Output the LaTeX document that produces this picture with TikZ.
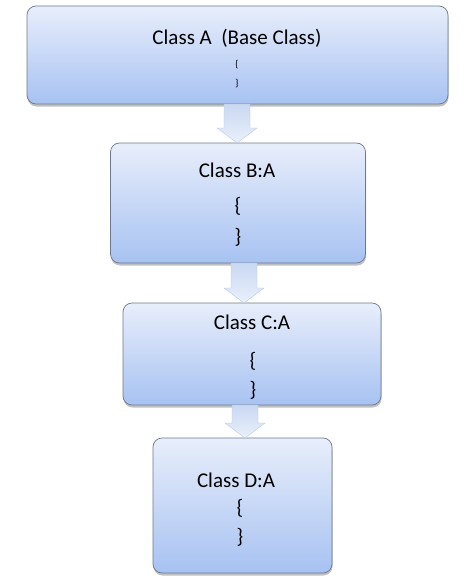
\documentclass[tikz,border=0pt]{standalone}
\usepackage{fontspec}
\setmainfont{Carlito}
\usetikzlibrary{calc,shadows}
\definecolor{boxtop}{HTML}{E8EEFB}
\definecolor{boxbot}{HTML}{A7C2F2}
\definecolor{boxline}{HTML}{6E7A8C}
\definecolor{arrtop}{HTML}{C9D8F2}
\definecolor{arrbot}{HTML}{E9F0FB}
\tikzset{
  box/.style={draw=boxline, line width=0.7pt, rounded corners=9pt, top color=boxtop, bottom color=boxbot,
    inner sep=0pt, outer sep=0pt,
    drop shadow={opacity=0.35, shadow xshift=0.5pt, shadow yshift=-2.5pt, fill=black!70}},
  arrowfill/.style={top color=arrtop, bottom color=arrbot, draw=arrtop!80!gray, line width=0.3pt},
  title/.style={font=\fontsize{21}{24}\selectfont, inner sep=0pt},
  brace/.style={font=\fontsize{21}{24}\selectfont, inner sep=0pt},
  smallbrace/.style={font=\fontsize{10}{12}\selectfont, inner sep=0pt}
}
\newcommand\blockarr[3]{%
  \path[arrowfill] let \p1=(#1.south), \p2=(#2.north) in
    (#3pt-13pt,\y1) -- (#3pt+13pt,\y1) -- (#3pt+13pt,\y2+15pt) -- (#3pt+20pt,\y2+15pt)
    -- (#3pt,\y2) -- (#3pt-20pt,\y2+15pt) -- (#3pt-13pt,\y2+15pt) -- cycle;}
\begin{document}
\begin{tikzpicture}[x=1pt,y=1pt]
\useasboundingbox[fill=white] (0,0) rectangle (476,-578);
% boxes
\node[box, minimum width=421pt, minimum height=98pt] (A) at (237.5,-55) {};
\node[box, minimum width=255pt, minimum height=120pt] (B) at (238,-203) {};
\node[box, minimum width=258pt, minimum height=102pt] (C) at (252,-354) {};
\node[box, minimum width=179pt, minimum height=135pt] (D) at (242.5,-505.5) {};
% arrows
\blockarr{A}{B}{237}
\blockarr{B}{C}{244}
\blockarr{C}{D}{245}
% texts
\node[title] (ta) at (237,-38) {Class A\ \ (Base Class)};
\node[smallbrace] (ta1) at (237,-65) {\{};
\node[smallbrace] (ta2) at (237,-84) {\}};
\node[title] (tb) at (237,-170) {Class B:A};
\node[brace] (tb1) at (238,-206) {\{};
\node[brace] (tb2) at (238,-237) {\}};
\node[title] (tc) at (252,-322) {Class C:A};
\node[brace] (tc1) at (253,-361) {\{};
\node[brace] (tc2) at (253,-390) {\}};
\node[title] (td) at (236,-480) {Class D:A};
\node[brace] (td1) at (240,-508) {\{};
\node[brace] (td2) at (240,-537) {\}};
\end{tikzpicture}
\end{document}
